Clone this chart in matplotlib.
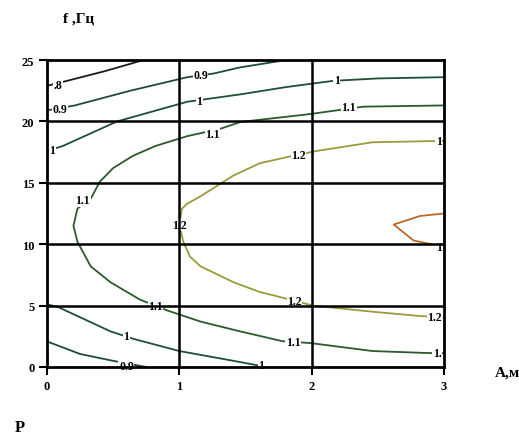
import matplotlib
matplotlib.use("Agg")
import matplotlib.pyplot as plt

plt.rcParams['font.family'] = ['Liberation Serif', 'DejaVu Serif']

# contour lines (A [m], f [Hz])
a08 = [0.0, 0.15, 0.44, 0.73]
f08 = [22.9, 23.3, 24.1, 25.0]

a09 = [0.0, 0.21, 0.63, 1.06, 1.26, 1.46, 1.78]
f09 = [20.9, 21.3, 22.5, 23.6, 23.9, 24.4, 24.95]

a10u = [0.0, 0.12, 0.53, 1.06, 1.46, 1.81, 2.16, 2.5, 3.0]
f10u = [17.6, 18.0, 20.0, 21.6, 22.2, 22.8, 23.3, 23.5, 23.6]

a11 = [3.0, 2.39, 1.99, 1.46, 1.31, 1.06, 0.82, 0.65, 0.50, 0.40, 0.33, 0.23,
       0.20, 0.23, 0.33, 0.48, 0.70, 0.91, 1.16, 1.46, 1.78, 1.99, 2.46, 2.87, 3.0]
f11 = [21.3, 21.2, 20.6, 19.95, 19.4, 18.8, 18.0, 17.2, 16.2, 15.1, 13.7, 12.9,
       11.5, 10.2, 8.2, 6.9, 5.5, 4.6, 3.7, 2.9, 2.1, 1.95, 1.3, 1.14, 1.12]

a12 = [3.0, 2.92, 2.46, 2.04, 1.86, 1.61, 1.41, 1.16, 1.06, 1.02, 1.0,
       1.03, 1.08, 1.16, 1.41, 1.61, 1.76, 2.01, 2.46, 2.82, 3.0]
f12 = [18.4, 18.4, 18.3, 17.6, 17.2, 16.6, 15.6, 13.9, 13.3, 12.9, 11.6,
       10.2, 9.0, 8.2, 6.9, 6.1, 5.7, 5.0, 4.5, 4.15, 4.05]

a13 = [3.0, 2.82, 2.62, 2.77, 2.95]
f13 = [12.5, 12.3, 11.6, 10.3, 9.9]

a09l = [0.0, 0.02, 0.25, 0.5, 0.75]
f09l = [2.1, 2.0, 1.06, 0.5, 0.0]

a10l = [0.0, 0.08, 0.48, 0.65, 1.0, 1.41, 1.61]
f10l = [5.1, 4.9, 2.9, 2.3, 1.3, 0.5, 0.1]

# contour labels: text, A, f
lab_txt = ['.8', '0.9', '0.9', '1', '1', '1', '1.1', '1.1', '1.1', '1.1', '1.1',
           '1.', '1.2', '1', '1.2', '1.2', '1.2', '1', '1', '1', '0.9']
lab_a = [0.08, 0.10, 1.16, 0.04, 1.15, 2.19, 1.25, 2.28, 0.27, 0.82, 1.86,
         2.95, 1.9, 2.96, 1.0, 1.87, 2.93, 2.96, 0.6, 1.62, 0.6]
lab_f = [23.0, 21.0, 23.8, 17.7, 21.7, 23.4, 19.0, 21.2, 13.6, 5.0, 2.0,
         1.1, 17.3, 18.4, 11.6, 5.4, 4.1, 9.8, 2.5, 0.2, 0.12]

fig = plt.figure(figsize=(5.19, 4.39), dpi=100)
ax = fig.add_axes([47 / 519, 1 - 368 / 439, 397 / 519, 307 / 439])

lw = 1.3
ax.plot(a08, f08, color='#1c1c1c', lw=lw, zorder=2)
ax.plot(a09, f09, color='#1f4a3c', lw=lw, zorder=2)
ax.plot(a10u, f10u, color='#1f4f35', lw=lw, zorder=2)
ax.plot(a11, f11, color='#2b5a2b', lw=lw, zorder=2)
ax.plot(a12, f12, color='#9c9a3c', lw=lw, zorder=2)
ax.plot(a13, f13, color='#b8682a', lw=lw, zorder=2)
ax.plot(a09l, f09l, color='#1f4a3c', lw=lw, zorder=2)
ax.plot(a10l, f10l, color='#1f4f35', lw=lw, zorder=2)

for t, x, y in zip(lab_txt, lab_a, lab_f):
    ax.text(x, y, t, fontsize=8.5, fontweight='bold', ha='center', va='center',
            zorder=3, bbox=dict(boxstyle='square,pad=0.05', fc='white', ec='none'))

for x in [1, 2]:
    ax.axvline(x, color='black', lw=1.8, zorder=4)
for y in [5, 10, 15, 20]:
    ax.axhline(y, color='black', lw=1.8, zorder=4)

ax.set_xlim(0, 3)
ax.set_ylim(0, 25)
ax.set_xticks([0, 1, 2, 3])
ax.set_yticks([0, 5, 10, 15, 20, 25])
for s in ax.spines.values():
    s.set_linewidth(2)
    s.set_zorder(5)
ax.tick_params(length=6, width=1.5, labelsize=9, pad=3)
for lbl in ax.get_xticklabels() + ax.get_yticklabels():
    lbl.set_fontweight('bold')

fig.text(63 / 519, 1 - 19 / 439, 'f ,Гц', fontsize=11, fontweight='bold',
         ha='left', va='center')
fig.text(495 / 519, 1 - 373 / 439, 'A,м', fontsize=11, fontweight='bold',
         ha='left', va='center')
fig.text(15 / 519, 1 - 428 / 439, 'P', fontsize=12, fontweight='bold',
         ha='left', va='center')

fig.savefig('out.png', dpi=100)
